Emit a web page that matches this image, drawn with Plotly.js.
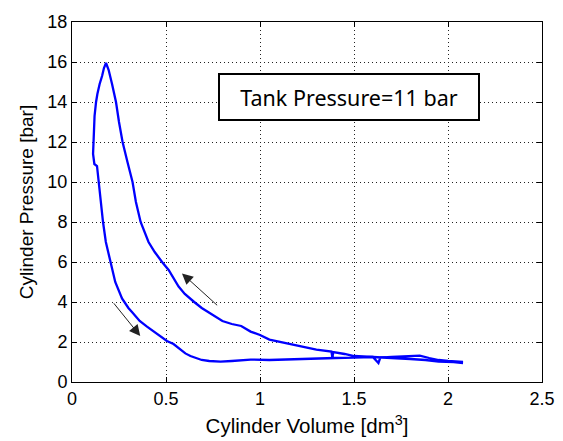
<!DOCTYPE html>
<html>
<head>
<meta charset="utf-8">
<script src="https://cdn.plot.ly/plotly-3.0.1.min.js"></script>
<style>html,body{margin:0;padding:0;background:#fff;}#chart{width:563px;height:441px;}</style>
</head>
<body>
<div id="chart"></div>
<script>
// Cylinder volume [dm^3] along the recorded cycle
const volume = [2.08, 2.03, 1.95, 1.88, 1.80, 1.70, 1.62, 1.55, 1.50, 1.45, 1.39, 1.385, 1.38, 1.30, 1.27, 1.20, 1.16, 1.10, 1.05, 1.00, 0.95, 0.90, 0.85, 0.80, 0.74, 0.69, 0.65, 0.60, 0.567, 0.54, 0.514, 0.479, 0.44, 0.407, 0.385, 0.365, 0.34, 0.322, 0.295, 0.269, 0.25, 0.234, 0.213, 0.195, 0.181, 0.17, 0.16, 0.147, 0.135, 0.128, 0.12, 0.115, 0.112, 0.112, 0.119, 0.133, 0.141, 0.142, 0.155, 0.165, 0.18, 0.204, 0.23, 0.266, 0.30, 0.319, 0.36, 0.399, 0.434, 0.47, 0.505, 0.54, 0.559, 0.58, 0.603, 0.63, 0.66, 0.69, 0.73, 0.79, 0.85, 0.95, 1.05, 1.20, 1.30, 1.40, 1.50, 1.60, 1.63, 1.64, 1.70, 1.80, 1.85, 1.90, 1.95, 2.00, 2.05, 2.08];
// Cylinder pressure [bar]
const pressure = [0.95, 1.00, 1.02, 1.10, 1.15, 1.20, 1.22, 1.25, 1.30, 1.40, 1.50, 1.22, 1.52, 1.62, 1.68, 1.80, 1.88, 2.02, 2.12, 2.35, 2.52, 2.80, 2.90, 3.05, 3.40, 3.70, 4.00, 4.40, 4.77, 5.20, 5.60, 6.00, 6.50, 7.00, 7.50, 8.00, 9.00, 10.0, 11.0, 12.0, 13.0, 14.0, 14.9, 15.6, 15.95, 15.7, 15.3, 14.9, 14.4, 14.0, 13.3, 12.5, 12.0, 11.4, 10.9, 10.8, 10.1, 10.0, 9.0, 8.0, 7.0, 6.0, 5.0, 4.18, 3.70, 3.50, 3.05, 2.77, 2.52, 2.30, 2.05, 1.90, 1.77, 1.60, 1.43, 1.30, 1.20, 1.10, 1.05, 1.02, 1.05, 1.12, 1.10, 1.15, 1.20, 1.20, 1.22, 1.25, 0.95, 1.22, 1.25, 1.28, 1.32, 1.20, 1.10, 1.05, 1.00, 1.00];

const xTicks = [0, 0.5, 1, 1.5, 2, 2.5];
const xTickText = ["0", "0.5", "1", "1.5", "2", "2.5"];
const yTicks = [0, 2, 4, 6, 8, 10, 12, 14, 16, 18];

const boxLabel = "Tank Pressure=11 bar";
const boxPos = [1.472, 14.24];
// arrows: [tailX, tailY, headX, headY]
const arrowUp = [0.78, 3.77, 0.585, 5.43];
const arrowDown = [0.216, 4.01, 0.363, 2.30];

const tickFont = {family: "Liberation Sans, Arial, sans-serif", size: 18, color: "#000"};
const xTitleFont = {family: "Liberation Sans, Arial, sans-serif", size: 20.5, color: "#000"};
const yTitleFont = {family: "Liberation Sans, Arial, sans-serif", size: 19, color: "#000"};

const trace = {
  x: volume, y: pressure, type: "scatter", mode: "lines",
  line: {color: "#0000ff", width: 2.3}, hoverinfo: "none"
};

function arrowAnn(a) {
  return {x: a[2], y: a[3], ax: a[0], ay: a[1], xref: "x", yref: "y", axref: "x", ayref: "y",
    text: "", showarrow: true, arrowhead: 2, arrowsize: 2.2, arrowwidth: 1, arrowcolor: "#222"};
}

const gridCommon = {
  showline: true, linecolor: "#000", linewidth: 1, mirror: "ticks",
  ticks: "inside", ticklen: 5, tickcolor: "#000",
  showgrid: true, gridcolor: "#222", griddash: "1px,3px", gridwidth: 1,
  zeroline: false, tickfont: tickFont, automargin: false
};

const layout = {
  width: 563, height: 441, autosize: false,
  margin: {l: 72, r: 21, t: 22, b: 59, pad: 0},
  paper_bgcolor: "#fff", plot_bgcolor: "#fff",
  showlegend: false,
  xaxis: Object.assign({}, gridCommon, {
    range: [0, 2.5], tickvals: xTicks, ticktext: xTickText,
    title: {text: "Cylinder Volume [dm<sup>3</sup>]", font: xTitleFont, standoff: 11}
  }),
  yaxis: Object.assign({}, gridCommon, {
    range: [0, 18], tickvals: yTicks,
    title: {text: "Cylinder Pressure [bar]", font: yTitleFont, standoff: 8}
  }),
  annotations: [
    {x: boxPos[0], y: boxPos[1], xref: "x", yref: "y", text: boxLabel, showarrow: false,
     font: {family: "Noto Sans, Open Sans, sans-serif", size: 21.5, color: "#000"},
     bordercolor: "#000", borderwidth: 2, bgcolor: "#fff", width: 256, height: 42,
     align: "center", valign: "middle"},
    arrowAnn(arrowUp),
    arrowAnn(arrowDown)
  ]
};

Plotly.newPlot("chart", [trace], layout, {staticPlot: true, displayModeBar: false});
</script>
</body>
</html>
